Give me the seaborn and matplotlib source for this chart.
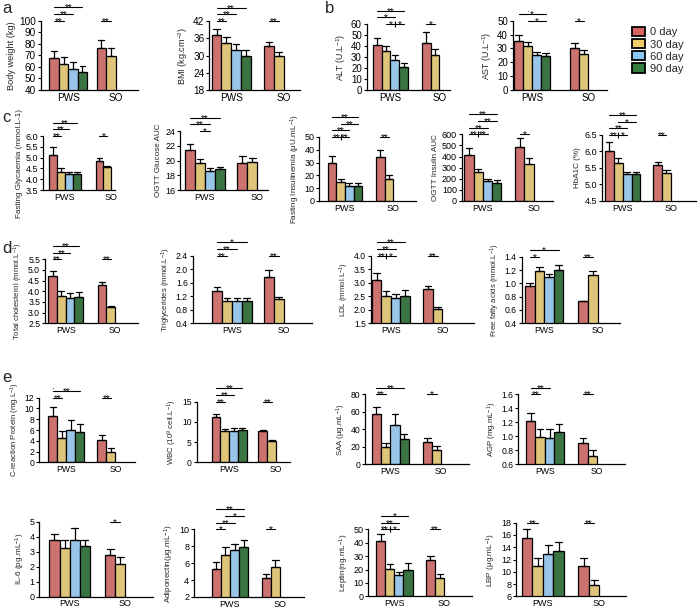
import matplotlib
matplotlib.use("Agg")
import matplotlib.pyplot as plt
from matplotlib import transforms
from matplotlib.patches import Patch
import seaborn as sns
import pandas as pd

days = ["0 day", "30 day", "60 day", "90 day"]
groups = ["PWS", "SO"]
colors = ["#DC645F", "#F0CD69", "#8CC8F5", "#327D3C"]

# values: PWS 0/30/60/90 day, then SO 0/30 day (mean and upper SEM)
bw_mean = [67.5, 62.5, 58.5, 55.5, 76.5, 69.5]
bw_sem = [6.5, 6.5, 6.0, 5.5, 7.0, 6.5]
bmi_mean = [37.2, 34.3, 32.0, 29.8, 33.3, 30.0]
bmi_sem = [2.1, 2.2, 2.0, 2.0, 1.3, 1.2]
alt_mean = [40.5, 35.5, 27.0, 21.0, 43.0, 31.5]
alt_sem = [6.5, 4.5, 4.5, 3.5, 9.5, 6.0]
ast_mean = [35.0, 31.5, 25.5, 24.5, 30.5, 26.0]
ast_sem = [5.0, 3.0, 2.0, 2.0, 3.5, 2.5]
glyc_mean = [5.1, 4.33, 4.22, 4.22, 4.85, 4.55]
glyc_sem = [0.38, 0.17, 0.13, 0.13, 0.13, 0.07]
oglu_mean = [21.4, 19.6, 18.55, 18.8, 19.7, 19.8]
oglu_sem = [0.9, 0.6, 0.4, 0.35, 0.9, 0.5]
ins_mean = [30.0, 15.0, 11.7, 11.5, 34.5, 17.5]
ins_sem = [5.5, 2.5, 2.3, 2.3, 5.0, 2.5]
oins_mean = [415, 260, 178, 165, 487, 335]
oins_sem = [63, 28, 22, 20, 80, 55]
hba_mean = [6.03, 5.65, 5.33, 5.32, 5.6, 5.36]
hba_sem = [0.25, 0.15, 0.05, 0.06, 0.08, 0.08]
tc_mean = [4.7, 3.8, 3.7, 3.75, 4.3, 3.25]
tc_sem = [0.23, 0.22, 0.2, 0.23, 0.12, 0.08]
tg_mean = [1.35, 1.06, 1.06, 1.05, 1.78, 1.12]
tg_sem = [0.13, 0.08, 0.09, 0.09, 0.19, 0.07]
ldl_mean = [3.1, 2.5, 2.45, 2.52, 2.78, 2.02]
ldl_sem = [0.25, 0.2, 0.15, 0.2, 0.1, 0.08]
ffa_mean = [0.96, 1.19, 1.09, 1.2, 0.73, 1.12]
ffa_sem = [0.05, 0.05, 0.05, 0.07, 0.01, 0.06]
crp_mean = [8.6, 4.6, 6.0, 5.6, 4.1, 2.0]
crp_sem = [1.7, 1.2, 1.8, 1.6, 0.9, 0.7]
wbc_mean = [11.2, 7.8, 7.8, 7.9, 7.8, 5.3]
wbc_sem = [0.8, 0.5, 0.7, 0.6, 0.3, 0.2]
saa_mean = [57, 20, 45, 29, 25, 16]
saa_sem = [8, 4, 13, 6, 5, 4.5]
agp_mean = [1.22, 0.99, 0.98, 1.06, 0.9, 0.72]
agp_sem = [0.12, 0.12, 0.13, 0.12, 0.07, 0.08]
il6_mean = [3.75, 3.28, 3.75, 3.4, 2.78, 2.15]
il6_sem = [0.4, 0.52, 0.8, 0.4, 0.4, 0.5]
adi_mean = [5.3, 6.95, 7.5, 7.85, 4.2, 5.55]
adi_sem = [0.8, 0.95, 0.8, 0.85, 0.55, 0.85]
lep_mean = [41.5, 20.3, 15.7, 20.0, 27.0, 14.0]
lep_sem = [5.0, 3.5, 2.3, 4.5, 3.0, 2.3]
lbp_mean = [15.5, 10.9, 12.9, 13.4, 10.9, 7.8]
lbp_sem = [1.5, 1.4, 1.5, 1.4, 1.3, 0.9]

# significance marks: (group, bar_i, bar_j, level, text)
std3 = [(0, 0, 1, 1, "**"), (0, 0, 2, 2, "**"), (0, 0, 3, 3, "**")]

W, H = 698, 609


def long_table(mean, sem):
    keys = [("PWS", d) for d in days] + [("SO", d) for d in days[:2]]
    rows = []
    for (g, d), m, s in zip(keys, mean, sem):
        rows.append((g, d, m))
        rows.append((g, d, m + s))
    return pd.DataFrame(rows, columns=["group", "day", "value"])


panels = [
    # mean, sem, ylabel, (left, top, right, bottom) px, yticks, width, xlim, marks, font
    (bw_mean, bw_sem, "Body weight (kg)", (40.7, 20.7, 138.3, 90),
     [40, 50, 60, 70, 80, 90, 100], 0.80, (-0.583, 1.48), std3 + [(1, 0, 1, 1, "**")], 7.2),
    (bmi_mean, bmi_sem, "BMI (kg.cm$^{-2}$)", (209.3, 21, 300, 90),
     [18, 24, 30, 36, 42], 0.745, (-0.417, 1.315), std3 + [(1, 0, 1, 1, "**")], 7.2),
    (alt_mean, alt_sem, "ALT (U.L$^{-1}$)", (366.7, 24, 450, 90),
     [0, 10, 20, 30, 40, 50, 60], 0.728, (-0.486, 1.215),
     [(0, 1, 2, 1, "*"), (0, 2, 3, 1, "*"), (0, 0, 2, 2, "*"), (0, 0, 3, 3, "**"), (1, 0, 1, 1, "*")], 7),
    (ast_mean, ast_sem, "AST (U.L$^{-1}$)", (512.7, 20.7, 606.7, 90),
     [0, 10, 20, 30, 40, 50], 0.643, (-0.345, 1.33),
     [(0, 1, 3, 1, "*"), (0, 0, 3, 2, "*"), (0, 1, 1, 3, "."), (1, 0, 1, 1, "*")], 7),
    (glyc_mean, glyc_sem, "Fasting Glycaemia (mmol.L-1)", (43.3, 136, 115, 190),
     [3.5, 4.0, 4.5, 5.0, 5.5, 6.0], 0.68, (-0.467, 1.08), std3 + [(1, 0, 1, 1, "*")], 6.5),
    (oglu_mean, oglu_sem, "OGTT Glucose AUC", (180, 131, 268.3, 190),
     [16, 18, 20, 22, 24], 0.76, (-0.476, 1.21),
     [(0, 1, 2, 1, "*"), (0, 0, 2, 2, "**"), (0, 0, 3, 3, "**")], 6.5),
    (ins_mean, ins_sem, "Fasting Insulinemia (μU.mL$^{-1}$)", (319.3, 137, 416, 201),
     [0, 10, 20, 30, 40, 50], 0.72, (-0.53, 1.47),
     [(0, 0, 1, 1, "**"), (0, 1, 2, 1, "**"), (0, 0, 2, 2, "**"), (0, 1, 3, 3, "**"),
      (0, 0, 3, 4, "**"), (1, 0, 1, 1, "**")], 6.5),
    (oins_mean, oins_sem, "OGTT Insulin AUC", (461.7, 134.3, 553.3, 201),
     [0, 100, 200, 300, 400, 500, 600], 0.73, (-0.418, 1.39),
     [(0, 0, 1, 1, "**"), (0, 1, 2, 1, "**"), (0, 0, 2, 2, "**"), (0, 1, 3, 3, "**"),
      (0, 0, 3, 4, "**"), (1, 0, 1, 1, "*")], 6.5),
    (hba_mean, hba_sem, "HbA1C (%)", (601.7, 135, 696, 201),
     [4.5, 5.0, 5.5, 6.0, 6.5], 0.736, (-0.436, 1.52),
     [(0, 0, 1, 1, "**"), (0, 1, 2, 1, "*"), (0, 0, 2, 2, "**"), (0, 1, 3, 3, "*"),
      (0, 0, 3, 4, "**"), (1, 0, 1, 1, "**")], 6.5),
    (tc_mean, tc_sem, "Total cholesterol (mmol.L$^{-1}$)", (45, 259.3, 138, 323.3),
     [2.5, 3.0, 3.5, 4.0, 4.5, 5.0, 5.5], 0.71, (-0.42, 1.465), std3 + [(1, 0, 1, 1, "**")], 6.2),
    (tg_mean, tg_sem, "Triglycerides (mmol.L$^{-1}$)", (192.7, 255.7, 312, 323.3),
     [0.4, 0.8, 1.2, 1.6, 2.0, 2.4], 0.77, (-0.755, 1.55),
     [(0, 0, 1, 1, "**"), (0, 0, 2, 2, "**"), (0, 0, 3, 3, "*"), (1, 0, 1, 1, "**")], 6.2),
    (ldl_mean, ldl_sem, "LDL (mmol.L$^{-1}$)", (370.7, 255.7, 474, 323.3),
     [1.5, 2.0, 2.5, 3.0, 3.5, 4.0], 0.74, (-0.39, 1.61),
     [(0, 0, 1, 1, "**"), (0, 1, 2, 1, "*"), (0, 0, 2, 2, "**"), (0, 0, 3, 3, "**"),
      (1, 0, 1, 1, "**")], 6.2),
    (ffa_mean, ffa_sem, "Free fatty acids (mmol.L$^{-1}$)", (521.7, 256.7, 620, 323.3),
     [0.4, 0.6, 0.8, 1.0, 1.2, 1.4], 0.72, (-0.42, 1.42),
     [(0, 0, 1, 1, "*"), (0, 0, 3, 2, "*"), (1, 0, 1, 1, "**")], 6.2),
    (crp_mean, crp_sem, "C-reaction Protein (mg.L$^{-1}$)", (39.3, 397.7, 135, 462.3),
     [0, 2, 4, 6, 8, 10, 12], 0.73, (-0.55, 1.40),
     [(0, 0, 1, 1, "**"), (0, 0, 3, 2, "**"), (0, 0, 0, 3, "."), (1, 0, 1, 1, "**")], 6.2),
    (wbc_mean, wbc_sem, "WBC (10$^{9}$ cell.L$^{-1}$)", (196.7, 401.7, 290, 462.3),
     [0, 5, 10, 15], 0.75, (-0.696, 1.30), std3 + [(1, 0, 1, 1, "**")], 6.2),
    (saa_mean, saa_sem, "SAA (μg.mL$^{-1}$)", (365, 394.3, 469.3, 464.3),
     [0, 20, 40, 60, 80], 0.73, (-0.497, 1.55),
     [(0, 0, 1, 1, "**"), (0, 0, 3, 2, "**"), (1, 0, 1, 1, "*")], 6.2),
    (agp_mean, agp_sem, "AGP (mg.mL$^{-1}$)", (518.3, 394.3, 625, 464.3),
     [0.6, 0.8, 1.0, 1.2, 1.4, 1.6], 0.726, (-0.51, 1.53),
     [(0, 0, 1, 1, "**"), (0, 0, 2, 2, "**"), (1, 0, 1, 1, "**")], 6.2),
    (il6_mean, il6_sem, "IL-6 (pg.mL$^{-1}$)", (39.3, 521.7, 153.3, 596.7),
     [0, 1, 2, 3, 4, 5], 0.73, (-0.545, 1.50), [(1, 0, 1, 1, "*")], 6.5),
    (adi_mean, adi_sem, "Adiponectin(μg.mL$^{-1}$)", (194, 529.3, 304, 597),
     [2, 4, 6, 8, 10], 0.733, (-0.72, 1.48),
     [(0, 0, 1, 1, "*"), (0, 0, 2, 2, "**"), (0, 1, 3, 3, "*"), (0, 0, 3, 4, "**"),
      (1, 0, 1, 1, "*")], 6.5),
    (lep_mean, lep_sem, "Leptin(ng.mL$^{-1}$)", (368.3, 529.3, 471.7, 596.3),
     [0, 10, 20, 30, 40, 50], 0.733, (-0.52, 1.55),
     [(0, 0, 1, 1, "**"), (0, 1, 2, 1, "*"), (0, 0, 2, 2, "**"), (0, 0, 3, 3, "*"),
      (1, 0, 1, 1, "**")], 6.5),
    (lbp_mean, lbp_sem, "LBP (μg.mL$^{-1}$)", (516, 522.7, 626, 596.3),
     [6, 8, 10, 12, 14, 16, 18], 0.75, (-0.475, 1.47),
     [(0, 0, 1, 1, "**"), (1, 0, 1, 1, "**")], 6.5),
]

sns.set_theme(style="ticks")
plt.rcParams["font.family"] = ["Liberation Sans", "DejaVu Sans"]
plt.rcParams["mathtext.fontset"] = "custom"
plt.rcParams["mathtext.rm"] = "Liberation Sans"
plt.rcParams["mathtext.default"] = "regular"

fig = plt.figure(figsize=(W / 100, H / 100), dpi=100)
step = 4.8  # points between bracket levels


def bar_center(ax, hue_i, g):
    for p in ax.containers[hue_i].patches:
        c = p.get_x() + p.get_width() / 2
        if abs(c - g) < 0.5:
            return c


for mean, sem, ylab, (l, t, r, b), yticks, width, xlim, marks, fs in panels:
    ax = fig.add_axes([l / W, 1 - b / H, (r - l) / W, (b - t) / H])
    df = long_table(mean, sem)
    sns.barplot(data=df, x="group", y="value", hue="day", order=groups, hue_order=days,
                palette=colors, estimator="min", errorbar=lambda v: (v.min(), v.max()),
                capsize=0.5, err_kws={"color": "black", "linewidth": 0.9},
                edgecolor="black", linewidth=0.9, width=width, legend=False, ax=ax)
    ax.set_ylim(yticks[0], yticks[-1])
    ax.set_yticks(yticks)
    ax.set_xlim(*xlim)
    ax.set_xlabel("")
    ax.set_ylabel(ylab, fontsize=fs - 0.6, labelpad=2)
    sns.despine(ax=ax)
    for s in ["left", "bottom"]:
        ax.spines[s].set_linewidth(0.9)
        ax.spines[s].set_color("black")
    ax.tick_params(axis="y", direction="out", length=2.5, width=0.8, labelsize=fs, pad=1, colors="black")
    ax.tick_params(axis="x", length=0, labelsize=fs, pad=2, colors="black")

    trans = transforms.blended_transform_factory(ax.transData, ax.transAxes)
    for g, i, j, lev, txt in marks:
        x0 = bar_center(ax, i, g)
        x1 = bar_center(ax, j, g)
        tl = transforms.offset_copy(trans, fig=fig, x=0, y=step * (lev - 1), units="points")
        tt = transforms.offset_copy(trans, fig=fig, x=0, y=step * (lev - 1) - 3.0, units="points")
        if j > i:
            ax.plot([x0, x1], [1, 1], transform=tl, color="black", lw=0.8, clip_on=False)
            for g2, i2, j2, lev2, _ in marks:
                if g2 == g and lev2 == lev and i2 == j and j2 > i2:
                    ax.plot([x1], [1], transform=tl, marker="|", ms=4, mew=0.8,
                            color="black", clip_on=False)
        ax.text((x0 + x1) / 2, 1, txt, transform=tt, ha="center", va="baseline",
                fontsize=7, color="black", clip_on=False)

handles = [Patch(facecolor=c, edgecolor="black", linewidth=1.3) for c in colors]
fig.legend(handles, days, loc="upper left", bbox_to_anchor=(632 / W, 1 - 27 / H),
           frameon=False, fontsize=8, handlelength=1.2, handleheight=0.9,
           labelspacing=0.15, handletextpad=0.4, borderpad=0, borderaxespad=0)

for letter, x, y in [("a", 2, 13), ("b", 325, 13), ("c", 2, 122), ("d", 2, 253), ("e", 2, 382)]:
    fig.text(x / W, 1 - y / H, letter, fontsize=12, va="baseline", ha="left")

fig.savefig("out.png", dpi=100)
